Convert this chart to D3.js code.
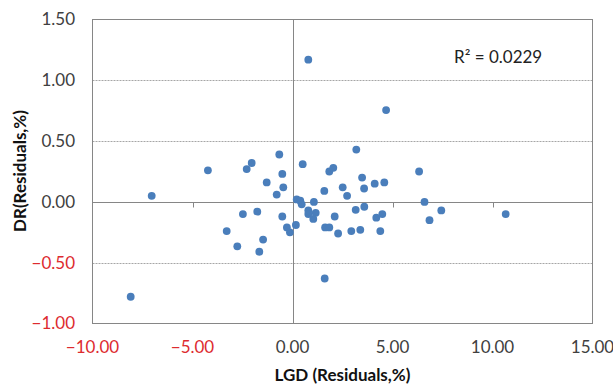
<!DOCTYPE html>
<html>
<head>
<meta charset="utf-8">
<script src="https://cdn.jsdelivr.net/npm/d3@7"></script>
<style>
  html, body { margin: 0; padding: 0; background: #fff; }
  svg { display: block; font-family: Lato, "Open Sans", sans-serif; }
</style>
</head>
<body>
<svg id="chart" width="613" height="387"></svg>
<script>
// Residuals of LGD (x) against residuals of DR (y), in percent
const lgdResiduals = [
  0.79, -7.04, -4.23, -2.29, -2.04, -0.66, -0.51, -1.29, -0.46, -0.79,
  0.51, 0.21, 0.39, 0.46, 1.07, 4.68, 3.19, 1.84, 2.04, 3.48,
  2.51, 1.59, 3.58, 4.11, 4.59, 6.33, 2.73, 6.60, 7.44, 6.85,
  10.66, 0.79, 0.79, 1.16, 1.04, 2.11, 1.63, 1.84, 2.28, 2.94,
  3.39, 3.16, 3.59, 4.19, 4.49, 4.39, 1.61, -8.09, -3.29, -2.48,
  -1.76, -2.76, -1.47, -1.66, -0.51, -0.28, -0.13, 0.17
];
const drResiduals = [
  1.17, 0.05, 0.26, 0.27, 0.32, 0.39, 0.23, 0.16, 0.12, 0.06,
  0.31, 0.02, 0.01, -0.02, 0.00, 0.755, 0.43, 0.25, 0.28, 0.20,
  0.12, 0.09, 0.11, 0.15, 0.16, 0.25, 0.05, 0.00, -0.07, -0.15,
  -0.10, -0.07, -0.10, -0.09, -0.14, -0.12, -0.21, -0.21, -0.26, -0.24,
  -0.23, -0.065, -0.04, -0.13, -0.10, -0.24, -0.63, -0.78, -0.24, -0.10,
  -0.08, -0.365, -0.31, -0.41, -0.12, -0.21, -0.25, -0.19
];
const xTicks = [-10, -5, 0, 5, 10, 15];
const yTicks = [-1.0, -0.5, 0, 0.5, 1.0, 1.5];
const rSquared = 0.0229;

const svg = d3.select("#chart");
const plot = { left: 92.5, right: 592.5, top: 19.5, bottom: 323.5 };

const x = d3.scaleLinear().domain([-10, 15]).range([plot.left, plot.right]);
const y = d3.scaleLinear().domain([-1.0, 1.5]).range([plot.bottom, plot.top]);

const gridColor = "#a6a6a6";
const axisColor = "#868686";
const negColor = "#dd2b2f";
const textColor = "#404040";

// horizontal dashed gridlines
svg.append("g")
  .selectAll("line")
  .data(yTicks.filter(v => v !== 0 && v !== -1.0 && v !== 1.5))
  .join("line")
  .attr("x1", plot.left).attr("x2", plot.right)
  .attr("y1", d => Math.round(y(d)) + 0.5).attr("y2", d => Math.round(y(d)) + 0.5)
  .attr("stroke", gridColor)
  .attr("stroke-width", 1)
  .attr("stroke-dasharray", "2,1");

// plot border
svg.append("rect")
  .attr("x", plot.left).attr("y", plot.top)
  .attr("width", plot.right - plot.left).attr("height", plot.bottom - plot.top)
  .attr("fill", "none").attr("stroke", axisColor).attr("stroke-width", 1);

// horizontal axis through y = 0, with small ticks below it
const xAxis = d3.axisBottom(x)
  .tickValues(xTicks.filter(v => v > -10 && v < 15 && v !== 0))
  .tickSize(5)
  .tickFormat("");
const xAxisG = svg.append("g")
  .attr("transform", `translate(0,${Math.round(y(0)) + 0.5})`)
  .call(xAxis);
xAxisG.select(".domain").attr("stroke", axisColor).attr("d", `M${plot.left},0H${plot.right}`);
xAxisG.selectAll(".tick line").attr("stroke", axisColor).attr("transform", "translate(0.5,0)");

// vertical axis through x = 0
svg.append("line")
  .attr("x1", Math.round(x(0)) + 0.5).attr("x2", Math.round(x(0)) + 0.5)
  .attr("y1", plot.top).attr("y2", plot.bottom)
  .attr("stroke", axisColor).attr("stroke-width", 1);

// tick labels (negative values in red)
const fmt = d3.format(".2f");
svg.append("g")
  .selectAll("text")
  .data(yTicks)
  .join("text")
  .attr("x", 75)
  .attr("y", d => y(d))
  .attr("dy", "0.35em")
  .attr("text-anchor", "end")
  .attr("font-size", 17)
  .attr("fill", d => d < 0 ? negColor : textColor)
  .text(d => fmt(d));

svg.append("g")
  .selectAll("text")
  .data(xTicks)
  .join("text")
  .attr("x", d => x(d))
  .attr("y", 353)
  .attr("text-anchor", "middle")
  .attr("font-size", 17)
  .attr("fill", d => d < 0 ? negColor : textColor)
  .text(d => fmt(d));

// points
svg.append("g")
  .selectAll("circle")
  .data(lgdResiduals.map((v, i) => [v, drResiduals[i]]))
  .join("circle")
  .attr("cx", d => x(d[0]))
  .attr("cy", d => y(d[1]))
  .attr("r", 3.9)
  .attr("fill", "#4a7ebb");

// coefficient of determination
svg.append("text")
  .attr("x", 454)
  .attr("y", 63)
  .attr("font-size", 17)
  .attr("fill", "#222")
  .text(`R² = ${rSquared}`);

// axis titles
svg.append("text")
  .attr("x", 342.5)
  .attr("y", 381)
  .attr("text-anchor", "middle")
  .attr("font-size", 17)
  .attr("font-weight", "bold")
  .attr("fill", "#111")
  .text("LGD (Residuals,%)");

svg.append("text")
  .attr("transform", "translate(26,171) rotate(-90)")
  .attr("text-anchor", "middle")
  .attr("font-size", 17)
  .attr("font-weight", "bold")
  .attr("fill", "#111")
  .text("DR(Residuals,%)");
</script>
</body>
</html>
